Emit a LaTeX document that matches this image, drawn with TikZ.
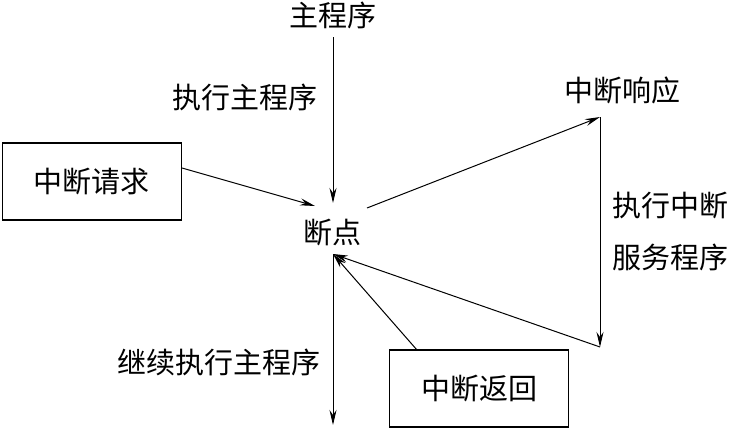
\documentclass[tikz,border=0pt]{standalone}
\usepackage{fontspec}
\newfontfamily\cjk{Noto Sans CJK SC}
\usetikzlibrary{arrows.meta}
\begin{document}
\begin{tikzpicture}[x=1pt,y=-1pt,
  lbl/.style={font=\cjk\fontsize{29}{34}\selectfont, inner sep=0pt},
  boxnode/.style={draw, line width=1.3pt, minimum width=179pt, minimum height=77pt, font=\cjk\fontsize{29}{34}\selectfont},
  conn/.style={line width=1pt, -{Stealth[length=15pt,width=7pt,inset=5pt]}},
  plain/.style={line width=1pt}]
\useasboundingbox (0,0) rectangle (729,429);
\node[lbl] (main) at (333,15) {主程序};
\node[lbl] (exmain) at (245,97) {执行主程序};
\node[lbl] (bp) at (332,233) {断点};
\node[lbl] (resp) at (622,90) {中断响应};
\node[lbl] (svc1) at (670,206) {执行中断};
\node[lbl] (svc2) at (670,257) {服务程序};
\node[lbl] (cont) at (219,362) {继续执行主程序};
\node[boxnode] (req) at (92,181.5) {中断请求};
\node[boxnode] (ret) at (479,388.5) {中断返回};
\coordinate (top) at (333,37);
\coordinate (bpin) at (333,203);
\coordinate (bpout) at (333,254);
\coordinate (reqout) at (182,168);
\coordinate (reqend) at (315,206);
\coordinate (bpright) at (367,208);
\coordinate (respc) at (600,117);
\coordinate (svcend) at (600,347);
\coordinate (retout) at (417,350);
\coordinate (bottom) at (333,425);
\draw[conn] (top) -- (bpin);
\draw[conn] (reqout) -- (reqend);
\draw[conn] (bpright) -- (respc);
\draw[conn] (respc) -- (svcend);
\draw[conn] (svcend) -- (bpout);
\draw[conn] (retout) -- (bpout);
\draw[conn] (bpout) -- (bottom);
\end{tikzpicture}
\end{document}
